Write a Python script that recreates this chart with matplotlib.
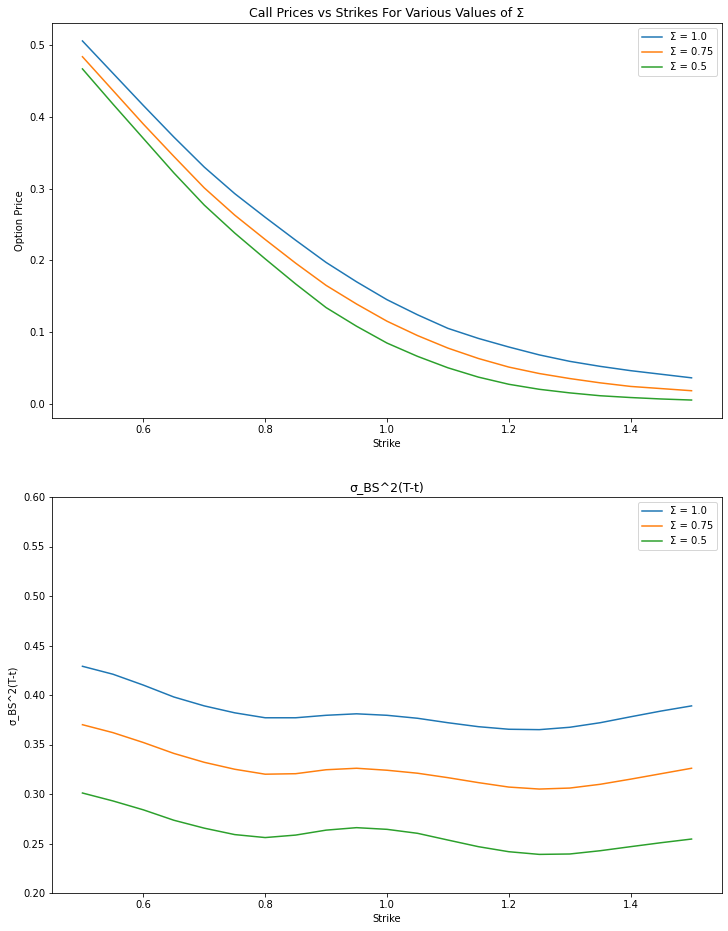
import numpy as np
import matplotlib
matplotlib.use('Agg')
import matplotlib.pyplot as plt

plt.rcParams['font.family'] = ['Liberation Sans Narrow', 'DejaVu Sans']

# strikes
strikes = [0.5, 0.55, 0.6, 0.65, 0.7, 0.75, 0.8, 0.85, 0.9, 0.95, 1.0,
           1.05, 1.1, 1.15, 1.2, 1.25, 1.3, 1.35, 1.4, 1.45, 1.5]

# call prices
call_s100 = [0.506, 0.461, 0.416, 0.372, 0.330, 0.293, 0.260, 0.228, 0.197, 0.170, 0.145,
             0.124, 0.105, 0.091, 0.079, 0.068, 0.059, 0.052, 0.046, 0.041, 0.036]
call_s075 = [0.484, 0.437, 0.390, 0.345, 0.301, 0.263, 0.229, 0.196, 0.165, 0.139, 0.115,
             0.095, 0.0775, 0.063, 0.051, 0.042, 0.035, 0.029, 0.024, 0.021, 0.018]
call_s050 = [0.467, 0.418, 0.370, 0.322, 0.277, 0.238, 0.202, 0.167, 0.134, 0.108, 0.0845,
             0.066, 0.050, 0.037, 0.027, 0.020, 0.015, 0.011, 0.0085, 0.0065, 0.005]

# total implied variance sigma_BS^2 (T-t)
var_s100 = [0.429, 0.421, 0.410, 0.398, 0.389, 0.382, 0.377, 0.377, 0.3795, 0.381, 0.3795,
            0.3765, 0.372, 0.368, 0.3654, 0.365, 0.3674, 0.372, 0.378, 0.3838, 0.389]
var_s075 = [0.370, 0.362, 0.352, 0.341, 0.332, 0.325, 0.320, 0.3205, 0.3245, 0.326, 0.324,
            0.321, 0.3165, 0.3115, 0.307, 0.305, 0.306, 0.3098, 0.315, 0.3205, 0.326]
var_s050 = [0.301, 0.293, 0.284, 0.2735, 0.2655, 0.259, 0.256, 0.2585, 0.2635, 0.266, 0.2643,
            0.2603, 0.2535, 0.2468, 0.2417, 0.239, 0.2394, 0.2427, 0.2468, 0.2508, 0.2545]

labels = ['Σ = 1.0', 'Σ = 0.75', 'Σ = 0.5']

fig = plt.figure(figsize=(728 / 72, 931 / 72), dpi=72)
ax1 = fig.add_axes([52 / 728, 1 - 418 / 931, 670 / 728, 395 / 931])
ax2 = fig.add_axes([52 / 728, 1 - 893 / 931, 670 / 728, 396 / 931])

for ys, lab in zip([call_s100, call_s075, call_s050], labels):
    ax1.plot(strikes, ys, label=lab)
ax1.set_title('Call Prices vs Strikes For Various Values of Σ', fontsize=12.5)
ax1.set_xlabel('Strike')
ax1.set_ylabel('Option Price')
ax1.legend(loc='upper right')

for ys, lab in zip([var_s100, var_s075, var_s050], labels):
    ax2.plot(strikes, ys, label=lab)
ax2.set_ylim(0.2, 0.6)
ax2.set_title('σ_BS^2(T-t)', fontsize=12.5)
ax2.set_xlabel('Strike')
ax2.set_ylabel('σ_BS^2(T-t)')
ax2.legend(loc='upper right')

fig.savefig('out.png', dpi=72)
